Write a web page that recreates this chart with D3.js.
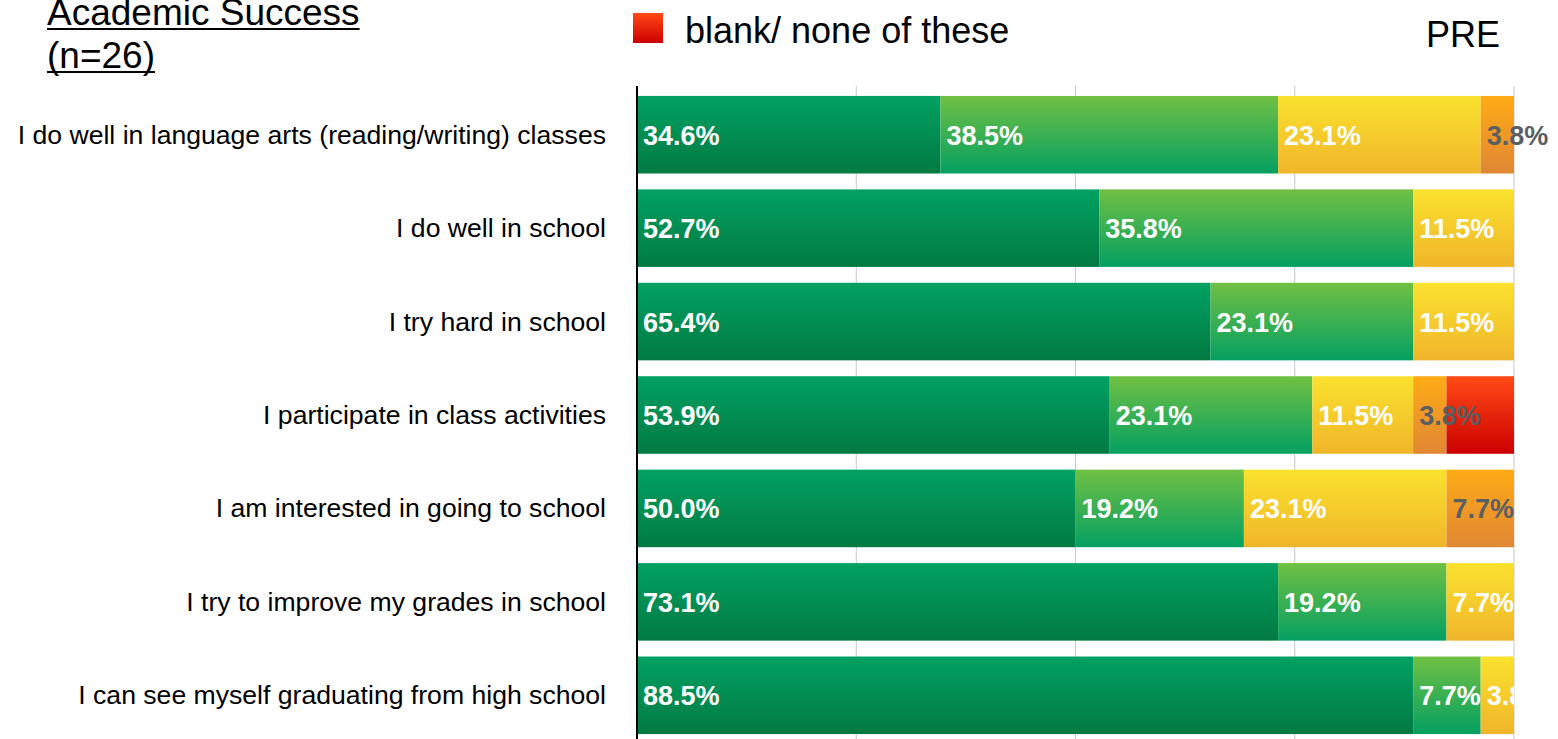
<!DOCTYPE html>
<html>
<head>
<meta charset="utf-8">
<script src="https://cdn.jsdelivr.net/npm/d3@7"></script>
<style>
  body { margin: 0; background: #fff; }
  text { font-family: "Liberation Sans", Arial, Helvetica, sans-serif; }
</style>
</head>
<body>
<div id="chart"></div>
<script>
(function(){

    var width = 1558;
    var height = 739;

    // data
    var questions = [
        "I do well in language arts (reading/writing) classes",
        "I do well in school",
        "I try hard in school",
        "I participate in class activities",
        "I am interested in going to school",
        "I try to improve my grades in school",
        "I can see myself graduating from high school"
    ];
    var responses = ["r1", "r2", "r3", "r4", "blank"];
    var r1Values = [34.6, 52.7, 65.4, 53.9, 50.0, 73.1, 88.5];
    var r2Values = [38.5, 35.8, 23.1, 23.1, 19.2, 19.2, 7.7];
    var r3Values = [23.1, 11.5, 11.5, 11.5, 23.1, 7.7, 3.8];
    var r4Values = [3.8, 0, 0, 3.8, 7.7, 0, 0];
    var blankValues = [0, 0, 0, 7.7, 0, 0, 0];
    var xTicks = [0, 25, 50, 75, 100];

    var gradients = {
        r1: ["#02a163", "#017a42"],
        r2: ["#70c043", "#04a062"],
        r3: ["#fae22e", "#f0b52a"],
        r4: ["#ffab16", "#e08734"],
        blank: ["#ff4a16", "#cc0000"]
    };
    var labelColour = { r1: "#fff", r2: "#fff", r3: "#fff", r4: "#5a5f63", blank: null };

    var margin = { left: 637, right: 44, top: 86 };

    var svg = d3.select("#chart")
        .append("svg")
            .attr("width", width)
            .attr("height", height);

    var defs = svg.append("defs");
    responses.forEach(function(r){
        var g = defs.append("linearGradient")
            .attr("id", "grad-" + r)
            .attr("x1", 0).attr("y1", 0).attr("x2", 0).attr("y2", 1);
        g.append("stop").attr("offset", "0%").attr("stop-color", gradients[r][0]);
        g.append("stop").attr("offset", "100%").attr("stop-color", gradients[r][1]);
    });

    var x = d3.scaleLinear()
        .domain([0, 100])
        .range([margin.left, width - margin.right]);

    defs.append("clipPath").attr("id", "plotclip")
        .append("rect")
            .attr("x", x(0)).attr("y", 0)
            .attr("width", x(100) - x(0)).attr("height", height);

    var y = d3.scaleBand()
        .domain(questions)
        .range([88, 742])
        .paddingInner(0.17)
        .paddingOuter(0.085);

    var rows = questions.map(function(q, i){
        return { question: q, r1: r1Values[i], r2: r2Values[i], r3: r3Values[i], r4: r4Values[i], blank: blankValues[i] };
    });

    var stacked = d3.stack().keys(responses)(rows);

    // gridlines
    svg.append("g")
        .selectAll("line")
        .data(xTicks.slice(1))
        .enter()
        .append("line")
            .attr("x1", function(d){ return x(d); })
            .attr("x2", function(d){ return x(d); })
            .attr("y1", margin.top)
            .attr("y2", height)
            .attr("stroke", "#c8c8c8")
            .attr("stroke-width", 1);

    // bars
    var layers = svg.append("g")
        .selectAll("g")
        .data(stacked)
        .enter()
        .append("g")
            .attr("fill", function(d){ return "url(#grad-" + d.key + ")"; });

    layers.selectAll("rect")
        .data(function(d){ return d.filter(function(s){ return s[1] - s[0] > 0; }); })
        .enter()
        .append("rect")
            .attr("x", function(d){ return x(d[0]); })
            .attr("y", function(d){ return y(d.data.question); })
            .attr("width", function(d){ return x(d[1]) - x(d[0]); })
            .attr("height", y.bandwidth());

    // value labels
    stacked.forEach(function(layer){
        var colour = labelColour[layer.key];
        if (!colour) return;
        var lbl = svg.append("g")
            .attr("clip-path", colour === "#fff" ? "url(#plotclip)" : null);
        lbl.selectAll("text")
            .data(layer.filter(function(s){ return s[1] - s[0] > 0; }))
            .enter()
            .append("text")
                .attr("x", function(d){ return x(d[0]) + 6; })
                .attr("y", function(d){ return y(d.data.question) + y.bandwidth() / 2 + 10; })
                .attr("fill", colour)
                .style("font-size", "27px")
                .style("font-weight", "bold")
                .text(function(d){ return (d[1] - d[0]).toFixed(1) + "%"; });
    });

    // axis line
    svg.append("line")
        .attr("x1", x(0)).attr("x2", x(0))
        .attr("y1", margin.top).attr("y2", height)
        .attr("stroke", "#000")
        .attr("stroke-width", 2);

    // category labels
    svg.append("g")
        .selectAll("text")
        .data(questions)
        .enter()
        .append("text")
            .attr("x", 606)
            .attr("y", function(d){ return y(d) + y.bandwidth() / 2 + 9; })
            .attr("text-anchor", "end")
            .attr("fill", "#000")
            .style("font-size", "26.6px")
            .text(function(d){ return d; });

    // title
    var title = svg.append("g");
    [["Academic Success", 25], ["(n=26)", 68]].forEach(function(t){
        var tx = title.append("text")
            .attr("x", 47)
            .attr("y", t[1])
            .style("font-size", "37px")
            .attr("fill", "#000")
            .text(t[0]);
        var w = tx.node().getComputedTextLength();
        title.append("line")
            .attr("x1", 47).attr("x2", 47 + w)
            .attr("y1", t[1] + 4).attr("y2", t[1] + 4)
            .attr("stroke", "#000")
            .attr("stroke-width", 2);
    });

    // legend
    svg.append("rect")
        .attr("x", 633).attr("y", 13)
        .attr("width", 30).attr("height", 30)
        .attr("fill", "url(#grad-blank)");
    svg.append("text")
        .attr("x", 685).attr("y", 43)
        .style("font-size", "36px")
        .attr("fill", "#000")
        .text("blank/ none of these");

    svg.append("text")
        .attr("x", 1500).attr("y", 47)
        .attr("text-anchor", "end")
        .style("font-size", "36px")
        .attr("fill", "#000")
        .text("PRE");
})();
</script>
</body>
</html>
